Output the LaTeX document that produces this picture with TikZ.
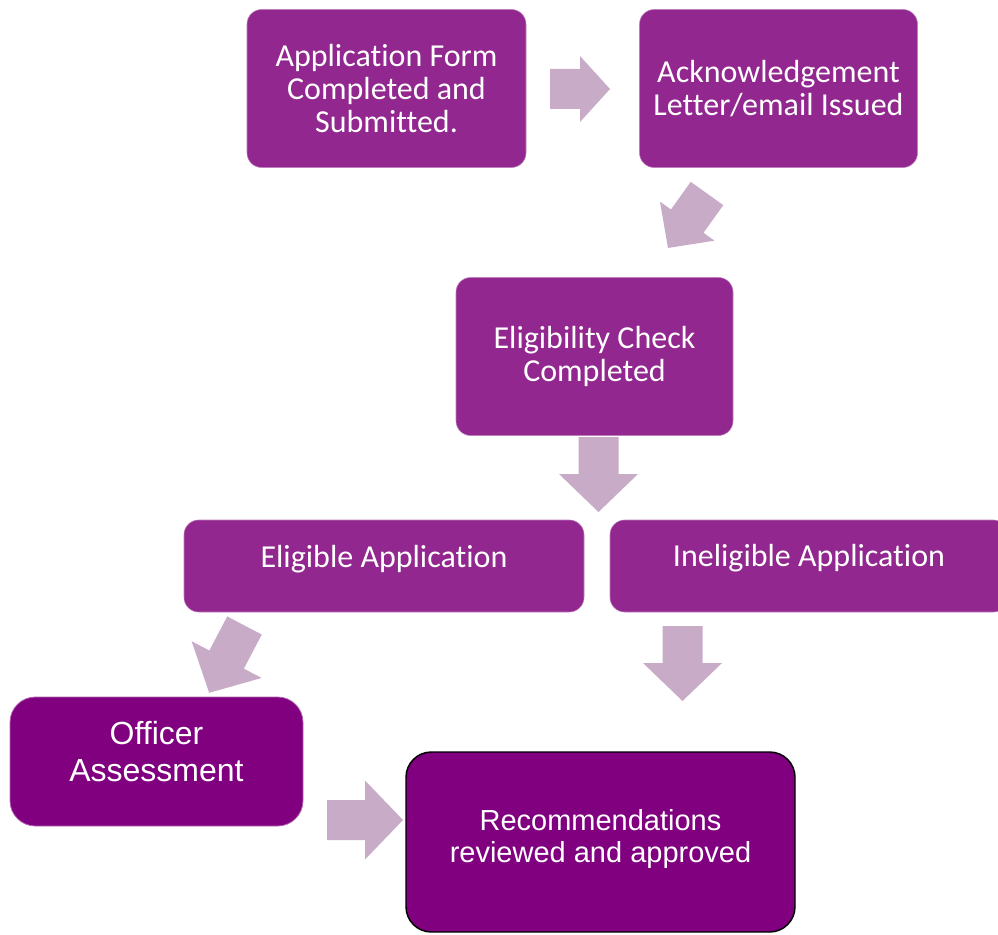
\documentclass[tikz,border=0pt]{standalone}
\usepackage{fontspec}
\setmainfont{Carlito}[Ligatures=NoCommon]
\newfontfamily\arialfont{Liberation Sans}
\begin{document}
\definecolor{stepfill}{HTML}{92278F}
\definecolor{finalfill}{HTML}{800080}
\definecolor{arrowfill}{HTML}{C7ABC7}
\begin{tikzpicture}[x=0.75pt,y=-0.75pt,
  stepbox/.style={rectangle, rounded corners=11pt, fill=stepfill,
    draw=stepfill!60!white, line width=0.4pt, inner sep=0pt},
  finalbox/.style={rectangle, rounded corners=19pt, fill=finalfill,
    draw=finalfill!60!white, line width=0.6pt, inner sep=0pt},
  steptext/.style={text=white, align=center, inner sep=0pt,
    font=\fontsize{24pt}{24.75pt}\selectfont},
  finaltext/.style={text=white, align=center, inner sep=0pt,
    font=\arialfont\fontsize{24pt}{27.75pt}\selectfont},
  pics/blockarrow/.style args={#1/#2/#3/#4}{code={
    \fill[arrowfill] (0,-#3) -- (#1,-#3) -- (#1,-#4) -- (#2,0)
      -- (#1,#4) -- (#1,#3) -- (0,#3) -- cycle;
  }}
]
\clip (0,0) rectangle (998,934);

% process steps
\node[stepbox, minimum width=209.25pt, minimum height=118.5pt] (apply) at (386.5,88.5) {};
\node[steptext] (apply-t) at (apply.center) {Application Form\\Completed and\\Submitted.};

\node[stepbox, minimum width=208.5pt, minimum height=118.5pt] (ack) at (778.5,88.5) {};
\node[steptext] (ack-t) at (778.5,88.5) {Acknowledgement\\Letter/email Issued};

\node[stepbox, minimum width=207.75pt, minimum height=118.5pt] (check) at (594.5,356.5) {};
\node[steptext] (check-t) at (594.5,356.5) {Eligibility Check\\Completed};

\node[stepbox, minimum width=300pt, minimum height=69pt] (elig) at (384,566) {};
\node[steptext] (elig-t) at (384,559) {Eligible Application};

\node[stepbox, minimum width=298.5pt, minimum height=69pt] (inelig) at (809,566) {};
\node[steptext] (inelig-t) at (809,558) {Ineligible Application};

\node[finalbox, minimum width=219.75pt, minimum height=96.75pt] (officer) at (156.5,761.5) {};
\node[finaltext] (officer-t) at (156.5,751.5) {Officer\\Assessment};

\node[finalbox, draw=black, line width=1.1pt, minimum width=291.75pt, minimum height=135pt] (recom) at (600.5,842) {};
\node[finaltext, font=\arialfont\fontsize{21.75pt}{23.5pt}\selectfont] (recom-t) at (600.5,839) {Recommendations\\reviewed and approved};

% block arrows between the steps
\pic at (550,89) {blockarrow=30/60/20/33};
\pic[rotate=234.4] at (707,193.5) {blockarrow=34/67/20/33.5};
\pic[rotate=270] at (598.5,437) {blockarrow=37/75/20/39.5};
\pic[rotate=242.3] at (244.5,625.5) {blockarrow=38.5/76/19.5/39.5};
\pic[rotate=270] at (682.5,626) {blockarrow=37/75/20/39.5};
\pic at (327,820) {blockarrow=38/76/20/39.5};
\end{tikzpicture}
\end{document}
